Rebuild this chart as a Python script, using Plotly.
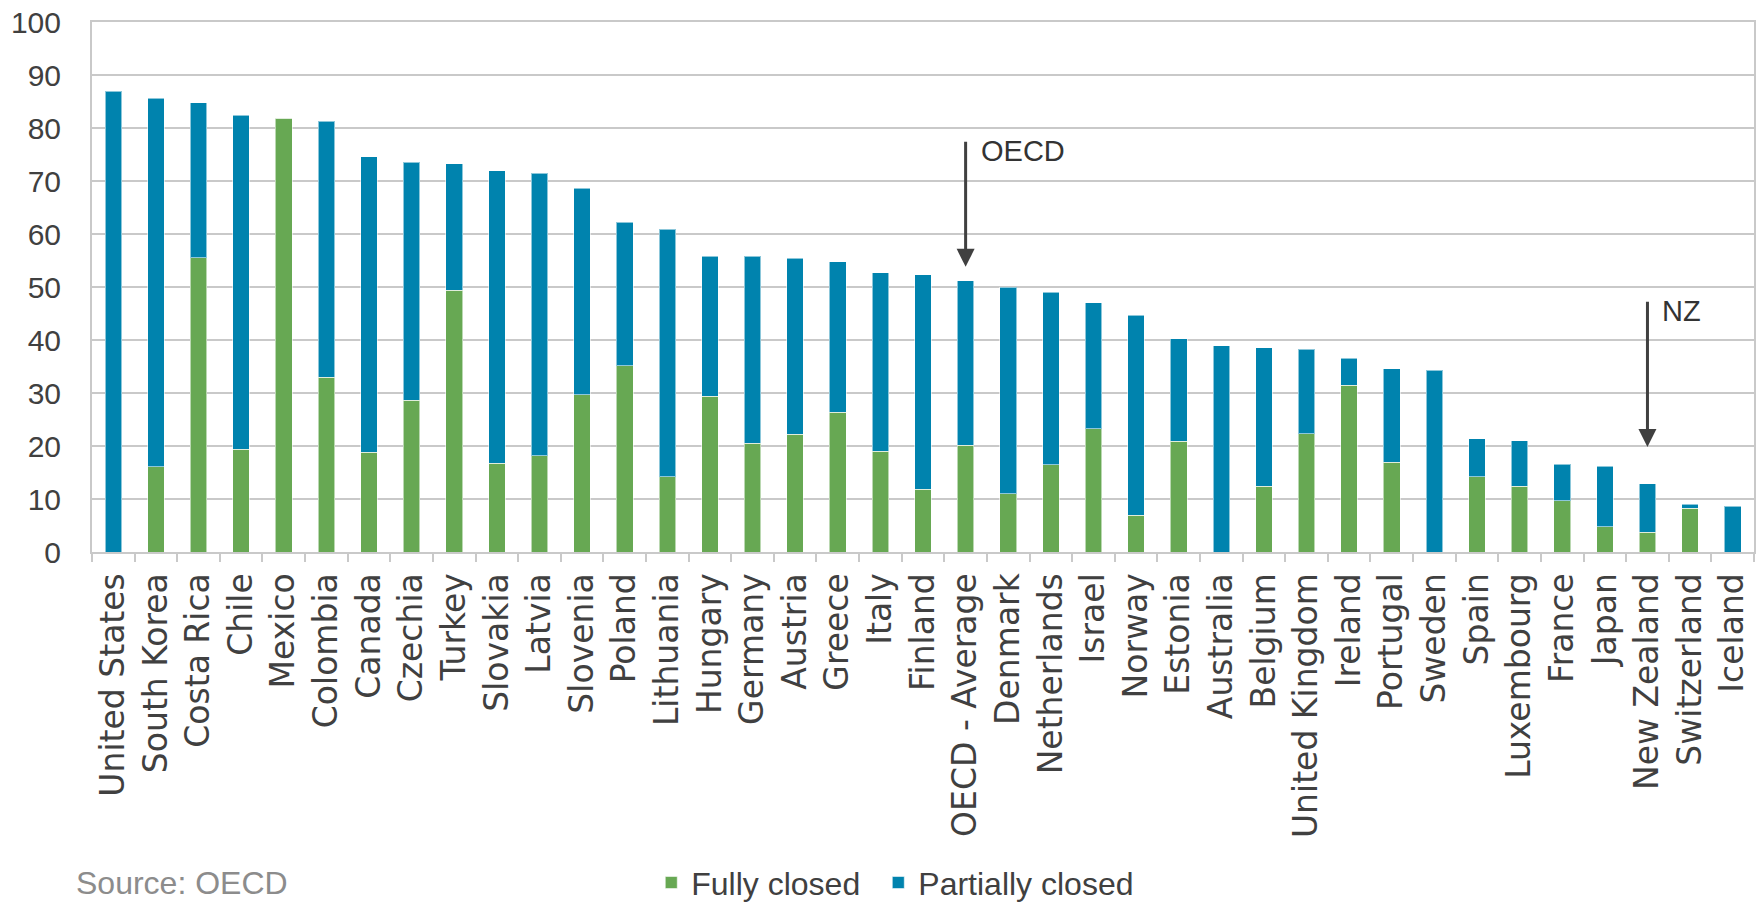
import plotly.graph_objects as go

countries = [
    "United States", "South Korea", "Costa Rica", "Chile", "Mexico", "Colombia",
    "Canada", "Czechia", "Turkey", "Slovakia", "Latvia", "Slovenia", "Poland",
    "Lithuania", "Hungary", "Germany", "Austria", "Greece", "Italy", "Finland",
    "OECD - Average", "Denmark", "Netherlands", "Israel", "Norway", "Estonia",
    "Australia", "Belgium", "United Kingdom", "Ireland", "Portugal", "Sweden",
    "Spain", "Luxembourg", "France", "Japan", "New Zealand", "Switzerland", "Iceland",
]

fully_closed = [
    0.0, 16.1, 55.5, 19.4, 81.8, 33.0, 18.8, 28.6, 49.4, 16.7, 18.2, 29.7, 35.1,
    14.2, 29.4, 20.5, 22.2, 26.4, 19.0, 11.8, 20.1, 11.0, 16.5, 23.3, 6.9, 20.9,
    0.0, 12.4, 22.3, 31.5, 16.9, 0.0, 14.2, 12.4, 9.7, 4.8, 3.7, 8.3, 0.0,
]

partially_closed = [
    86.9, 69.5, 29.3, 63.0, 0.0, 48.3, 55.8, 44.9, 23.9, 55.2, 53.3, 38.9, 27.1,
    46.7, 26.4, 35.3, 33.2, 28.4, 33.7, 40.5, 31.1, 39.0, 32.5, 23.7, 37.8, 19.3,
    38.9, 26.1, 16.0, 5.1, 17.7, 34.3, 7.2, 8.6, 6.9, 11.4, 9.2, 0.7, 8.6,
]

y_ticks = [0, 10, 20, 30, 40, 50, 60, 70, 80, 90, 100]

# Arrow callouts: (category, label, arrow tail value, arrow tip value, label value)
callouts = [
    ("OECD - Average", "OECD", 77.7, 53.8, 75.7),
    ("New Zealand", "NZ", 47.5, 19.8, 45.5),
]

GREEN = "#67a853"
BLUE = "#0083ae"
TEXT = "#404040"
GRID = "#c9c9c9"
FONT = "Liberation Sans, Arial, sans-serif"
LABEL_FONT = "DejaVu Sans, Liberation Sans, sans-serif"

fig = go.Figure()
fig.add_trace(go.Bar(
    name="Fully closed", x=countries, y=fully_closed, legend="legend",
    marker=dict(color=GREEN, line=dict(color="rgba(255,255,255,0.55)", width=1)),
))
fig.add_trace(go.Bar(
    name="Partially closed", x=countries, y=partially_closed, legend="legend2",
    marker=dict(color=BLUE, line=dict(color="rgba(255,255,255,0.55)", width=1)),
))

for cat, label, tail, tip, label_y in callouts:
    fig.add_annotation(
        x=cat, y=tip, ax=cat, ay=tail, xref="x", yref="y", axref="x", ayref="y",
        text="", showarrow=True, arrowhead=2, arrowsize=1.2, arrowwidth=3,
        arrowcolor=TEXT, standoff=0,
    )
    fig.add_annotation(
        x=cat, y=label_y, xref="x", yref="y", text=label, showarrow=False,
        xanchor="left", yanchor="middle", xshift=13,
        font=dict(family=FONT, size=29, color="#333333"),
    )

fig.add_annotation(
    x=-0.011, y=-0.624, xref="paper", yref="paper", text="Source: OECD",
    showarrow=False, xanchor="left", yanchor="middle",
    font=dict(family=FONT, size=32, color="#8c8c8c"),
)

legend_style = dict(
    orientation="h", y=-0.624, xanchor="left", yanchor="middle",
    font=dict(family=FONT, size=32, color=TEXT), bgcolor="rgba(0,0,0,0)",
)

fig.update_layout(
    width=1760, height=902,
    margin=dict(l=92, r=6, t=22, b=350, autoexpand=False),
    barmode="stack", bargap=0.61,
    paper_bgcolor="white", plot_bgcolor="white",
    font=dict(family=FONT, size=30, color=TEXT),
    showlegend=True,
    legend=dict(x=0.3365, **legend_style),
    legend2=dict(x=0.4731, **legend_style),
    xaxis=dict(
        type="category", tickangle=-90, tickson="boundaries",
        ticks="outside", ticklen=8, tickwidth=2, tickcolor=GRID,
        showline=True, linecolor=GRID, linewidth=2, mirror=True,
        showgrid=False, ticklabelstandoff=6, automargin=False,
        tickfont=dict(family=LABEL_FONT, size=33, color=TEXT),
    ),
    yaxis=dict(
        range=[0, 100], tickvals=y_ticks, ticks="",
        showgrid=True, gridcolor=GRID, gridwidth=2,
        showline=True, linecolor=GRID, linewidth=2, mirror=True,
        zeroline=False, ticklabelstandoff=23, automargin=False,
        tickfont=dict(family=FONT, size=30, color=TEXT),
    ),
)

fig.write_html("out.html")
